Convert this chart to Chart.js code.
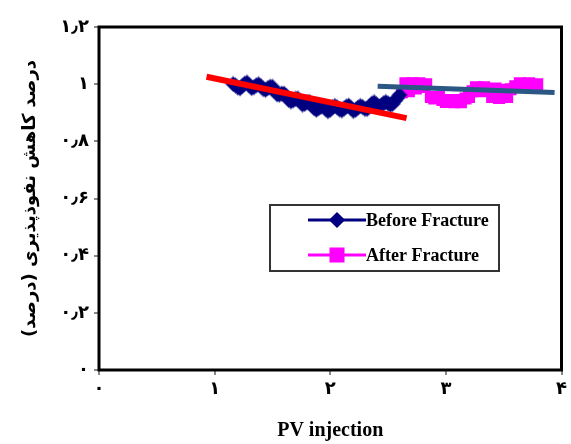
<!DOCTYPE html>
<html>
<head>
<meta charset="utf-8">
<script src="https://cdn.jsdelivr.net/npm/chart.js@4/dist/chart.umd.min.js"></script>
<style>
html,body{margin:0;padding:0;background:#fff;}
#wrap{width:571px;height:444px;position:relative;}
</style>
</head>
<body>
<div id="wrap"><canvas id="c" width="571" height="444"></canvas></div>
<script>
// ---- data ----
const xTickLabels = ['۰','۱','۲','۳','۴'];
const yTickLabels = ['۰','۰٫۲','۰٫۴','۰٫۶','۰٫۸','۱','۱٫۲'];
const seriesNames = ['Before Fracture','After Fracture'];
const xTitle = 'PV injection';
const yTitle = 'درصد کاهش نفوذپذیری (درصد)';

const beforeX = [1.16,1.18,1.20,1.22,1.24,1.26,1.28,1.30,1.32,1.34,1.36,1.38,1.40,1.42,1.44,1.46,1.48,1.50,1.52,1.54,1.56,1.58,1.60,1.62,1.64,1.66,1.68,1.70,1.72,1.74,1.76,1.78,1.80,1.82,1.84,1.86,1.88,1.90,1.92,1.94,1.96,1.98,2.00,2.02,2.04,2.06,2.08,2.10,2.12,2.14,2.16,2.18,2.20,2.22,2.24,2.26,2.28,2.30,2.32,2.34,2.36,2.38,2.40,2.42,2.44,2.46,2.48,2.50,2.52,2.54,2.56,2.58,2.60];
const beforeY = [1.001,0.996,0.988,0.985,0.994,1.002,1.006,0.996,0.986,0.989,0.996,1.000,0.993,0.983,0.980,0.986,0.991,0.991,0.977,0.964,0.963,0.967,0.967,0.958,0.945,0.939,0.943,0.949,0.950,0.939,0.928,0.931,0.937,0.938,0.928,0.916,0.910,0.916,0.921,0.923,0.913,0.905,0.910,0.919,0.924,0.919,0.911,0.908,0.915,0.922,0.925,0.916,0.906,0.910,0.918,0.924,0.920,0.913,0.913,0.923,0.932,0.937,0.929,0.920,0.925,0.933,0.938,0.933,0.927,0.931,0.942,0.952,0.962];

const afterX = [2.62,2.65,2.68,2.71,2.74,2.77,2.80,2.83,2.87,2.90,2.94,2.97,3.00,3.04,3.07,3.10,3.13,3.17,3.20,3.23,3.26,3.30,3.33,3.36,3.40,3.43,3.46,3.50,3.53,3.56,3.60,3.64,3.68,3.72,3.76,3.79];
const afterY = [0.972,1.003,0.975,1.003,0.985,1.003,0.990,1.000,0.955,0.950,0.955,0.945,0.938,0.945,0.937,0.945,0.937,0.950,0.955,0.975,0.989,0.975,0.989,0.980,0.955,0.985,0.952,0.980,0.955,0.982,0.993,1.003,0.990,1.003,0.993,1.000];

const redTrendX = [0.93, 2.66];
const redTrendY = [1.026, 0.881];
const blueTrendX = [2.41, 3.94];
const blueTrendY = [0.993, 0.971];

const zip = (xs, ys) => xs.map((x, i) => ({x: x, y: ys[i]}));

const CA = {left: 99, right: 564, top: 27, bottom: 370};
const serif = '"Liberation Serif", "Times New Roman", serif';
const arabic = '"DejaVu Sans", "Noto Sans"';

const frame = {
  id: 'frame',
  afterDatasetsDraw(chart) {
    const {ctx, chartArea: a} = chart;
    ctx.save();
    ctx.strokeStyle = '#000';
    ctx.lineWidth = 3;
    ctx.strokeRect(a.left, a.top, a.right - a.left, a.bottom - a.top);
    ctx.restore();
  }
};

const legendBox = {
  id: 'legendBox',
  afterDraw(chart) {
    const ctx = chart.ctx;
    const bx = 270, by = 205, bw = 229, bh = 66;
    ctx.save();
    ctx.fillStyle = '#fff';
    ctx.fillRect(bx, by, bw, bh);
    ctx.strokeStyle = '#333';
    ctx.lineWidth = 2;
    ctx.strokeRect(bx, by, bw, bh);
    const rows = [{y: 220, ds: chart.data.datasets[0]}, {y: 255, ds: chart.data.datasets[1]}];
    rows.forEach(r => {
      ctx.strokeStyle = r.ds.borderColor;
      ctx.lineWidth = 3;
      ctx.beginPath();
      ctx.moveTo(308, r.y);
      ctx.lineTo(366, r.y);
      ctx.stroke();
      ctx.fillStyle = r.ds.backgroundColor;
      ctx.strokeStyle = r.ds.backgroundColor;
      Chart.helpers.drawPoint(ctx, {pointStyle: r.ds.pointStyle, radius: r.ds.legendRadius, borderWidth: 1}, 337, r.y);
      ctx.fillStyle = '#000';
      ctx.font = 'bold 18px ' + serif;
      ctx.textAlign = 'left';
      ctx.textBaseline = 'middle';
      ctx.fillText(r.ds.label, 366, r.y + 1);
    });
    ctx.restore();
  }
};

const tickFont = {family: arabic, size: 18, weight: 'bold'};

new Chart(document.getElementById('c'), {
  type: 'scatter',
  data: {
    datasets: [
      {
        label: seriesNames[0],
        data: zip(beforeX, beforeY),
        showLine: true,
        borderColor: '#000080',
        backgroundColor: '#000080',
        pointBorderColor: 'rgba(0,0,128,0.45)',
        pointStyle: 'rectRot',
        pointRadius: 7,
        pointBorderWidth: 2,
        borderWidth: 4,
        legendRadius: 6,
        order: 3
      },
      {
        label: seriesNames[1],
        data: zip(afterX, afterY),
        showLine: true,
        borderColor: '#FF00FF',
        backgroundColor: '#FF00FF',
        pointStyle: 'rect',
        pointRadius: 8.5,
        pointBorderWidth: 0,
        borderWidth: 3,
        legendRadius: 8.5,
        order: 4
      },
      {
        label: 'trendRed',
        data: zip(redTrendX, redTrendY),
        showLine: true,
        borderColor: '#FF0000',
        borderWidth: 6,
        pointRadius: 0,
        order: 1
      },
      {
        label: 'trendBlue',
        data: zip(blueTrendX, blueTrendY),
        showLine: true,
        borderColor: '#2B5785',
        borderWidth: 5,
        pointRadius: 0,
        order: 2
      }
    ]
  },
  options: {
    responsive: false,
    animation: false,
    devicePixelRatio: 1,
    layout: {padding: {top: CA.top, right: 571 - CA.right, left: 0, bottom: 0}},
    plugins: {legend: {display: false}, tooltip: {enabled: false}},
    scales: {
      x: {
        type: 'linear', min: 0, max: 4,
        afterFit(s) { s.height = 444 - CA.bottom; },
        border: {display: false},
        grid: {drawOnChartArea: false, drawTicks: true, tickLength: 5, color: '#888', lineWidth: 2},
        ticks: {stepSize: 1, color: '#000', font: tickFont, padding: 4,
          callback: (v) => xTickLabels[Math.round(v)]},
        title: {display: true, text: xTitle, color: '#000',
          font: {family: serif, size: 20, weight: 'bold'},
          padding: {top: 0, bottom: 1}}
      },
      y: {
        type: 'linear', min: 0, max: 1.2,
        afterFit(s) { s.width = CA.left; },
        border: {display: false},
        grid: {drawOnChartArea: false, drawTicks: true, tickLength: 5, color: '#888', lineWidth: 2},
        ticks: {stepSize: 0.2, color: '#000', font: tickFont, padding: 5,
          callback: (v) => yTickLabels[Math.round(v * 5)]},
        title: {display: true, text: yTitle, color: '#000',
          font: {family: arabic, size: 18, weight: 'bold'},
          padding: {top: 20, bottom: 0}}
      }
    }
  },
  plugins: [frame, legendBox]
});
</script>
</body>
</html>
